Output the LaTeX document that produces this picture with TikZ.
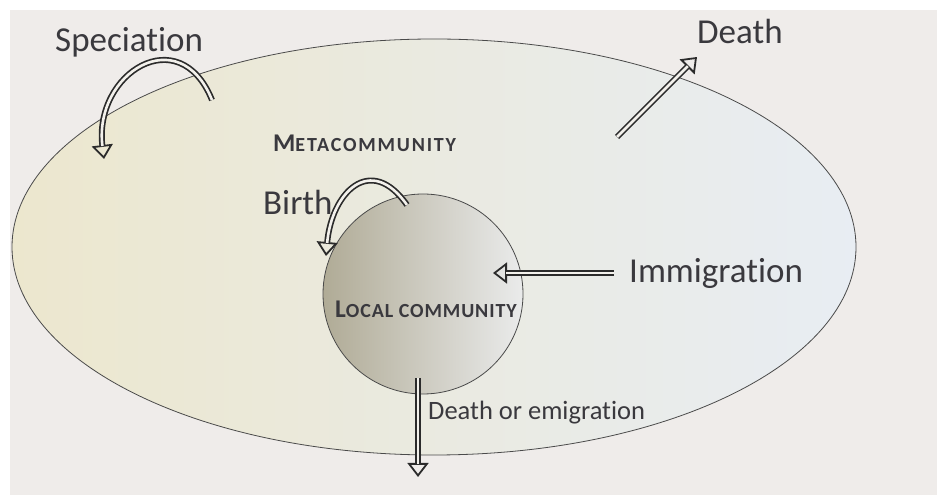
\documentclass[tikz,border=0pt]{standalone}
\usepackage{fontspec}
\setmainfont{Carlito}[Ligatures=NoCommon]
\usetikzlibrary{arrows.meta,shapes,calc}

\definecolor{paper}{HTML}{EFECEA}
\definecolor{ink}{HTML}{3A393E}
\definecolor{edge}{HTML}{4A4A4A}
\definecolor{arrowc}{HTML}{2B2B2B}
\definecolor{gap}{HTML}{F3F1EC}

\tikzset{
  biglab/.style={font=\fontsize{35}{40}\selectfont, text=ink, inner sep=0pt, anchor=base west},
  smalllab/.style={font=\fontsize{26.5}{30}\selectfont, text=ink, inner sep=0pt, anchor=base west},
  capslab/.style={font=\bfseries\fontsize{20}{24}\selectfont, text=ink, inner sep=0pt, anchor=base west},
  headline/.style={draw=arrowc, line width=1.8pt, -{Triangle[open, length=14pt, width=21pt]}},
  shaftline/.style={draw=arrowc, line width=1.7pt, double=gap, double distance=2.6pt, shorten >=13pt}
}

\begin{document}
\begin{tikzpicture}[x=1pt,y=1pt]
  \useasboundingbox (0,0) rectangle (937,495);
  \fill[white] (0,0) rectangle (937,495);
  \fill[paper] (10,0) rectangle (937,485);

  % the two communities
  \path (434,248) node[ellipse, draw=edge, line width=0.8pt, inner sep=0pt,
        minimum width=844pt, minimum height=416pt,
        left color={rgb,255:red,236;green,231;blue,206}, middle color={rgb,255:red,238;green,236;blue,224},
        right color={rgb,255:red,232;green,237;blue,243}] (meta) {}
        (423,201) node[circle, draw=edge, line width=0.8pt, inner sep=0pt, minimum size=200pt,
        left color={rgb,255:red,176;green,171;blue,150}, middle color={rgb,255:red,214;green,212;blue,197},
        right color={rgb,255:red,234;green,235;blue,235}] (local) {};

  % labels
  \path (55,443) node[biglab] (spec) {Speciation}
        (697,451) node[biglab] (death) {Death}
        (263,280) node[biglab] (birth) {Birth}
        (629,212) node[biglab] (immig) {Immigration}
        (428,75) node[smalllab] (emig) {Death or emigration}
        (273,343) node[capslab] (metalab) {\addfontfeature{LetterSpace=9}{\fontsize{25.5}{28}\selectfont M}ETACOMMUNITY}
        (335,177) node[capslab] (locallab) {\addfontfeature{LetterSpace=4.5}{\fontsize{25.5}{28}\selectfont L}OCAL COMMUNITY};

  % arrow ends
  \coordinate (specA) at (212,395);
  \coordinate (specB) at (104,336);
  \coordinate (birthA) at (407,290);
  \coordinate (birthB) at (326,239);
  \coordinate (deathA) at (617,358);
  \coordinate (deathB) at (697,438);
  \coordinate (immA) at (614,222);
  \coordinate (immB) at (493,222);
  \coordinate (emiA) at (418,117);
  \coordinate (emiB) at (418,18);

  \draw[headline] (specA) to[out=112, in=97, looseness=1.8] (specB);
  \draw[shaftline] (specA) to[out=112, in=97, looseness=1.8] (specB);
  \draw[headline] (birthA) to[out=125, in=85, looseness=1.7] (birthB);
  \draw[shaftline] (birthA) to[out=125, in=85, looseness=1.7] (birthB);
  \foreach \a/\b in {deathA/deathB, immA/immB, emiA/emiB}{
    \draw[headline] (\a) -- (\b);
    \draw[shaftline] (\a) -- (\b);
  }
\end{tikzpicture}
\end{document}
